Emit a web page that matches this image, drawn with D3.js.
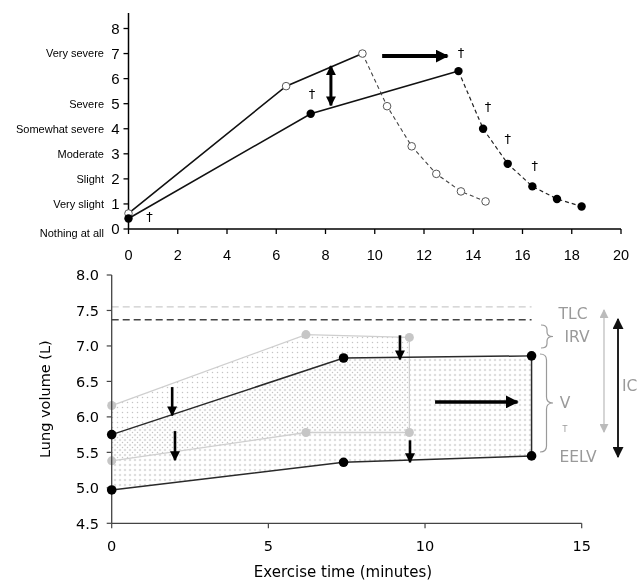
<!DOCTYPE html>
<html>
<head>
<meta charset="utf-8">
<script src="https://cdn.jsdelivr.net/npm/d3@7"></script>
<style>
  body { margin: 0; background: #fff; }
  svg { display: block; font-family: "Liberation Sans", Arial, sans-serif; filter: grayscale(100%); }
  .wide { font-family: "DejaVu Sans", sans-serif; }
</style>
</head>
<body>
<div id="chart"></div>
<script>
// ---- top panel: Borg dyspnoea during exercise and recovery ----
var rpeTicks = [0, 1, 2, 3, 4, 5, 6, 7, 8];
var rpeLabels = ["Nothing at all", "Very slight", "Slight", "Moderate", "Somewhat severe", "Severe", "", "Very severe", ""];
var timeTicksTop = [0, 2, 4, 6, 8, 10, 12, 14, 16, 18, 20];

var preExTime = [0, 6.4, 9.5];
var preExRPE = [0.62, 5.7, 7.0];
var preRecTime = [9.5, 10.5, 11.5, 12.5, 13.5, 14.5];
var preRecRPE = [7.0, 4.9, 3.3, 2.2, 1.5, 1.1];

var postExTime = [0, 7.4, 13.4];
var postExRPE = [0.42, 4.6, 6.3];
var postRecTime = [13.4, 14.4, 15.4, 16.4, 17.4, 18.4];
var postRecRPE = [6.3, 4.0, 2.6, 1.7, 1.2, 0.9];

var daggerTime = [0.85, 7.45, 13.5, 14.6, 15.4, 16.5];
var daggerRPE = [0.5, 5.4, 7.05, 4.9, 3.6, 2.55];

// ---- bottom panel: operating lung volumes ----
var volTicks = [4.5, 5.0, 5.5, 6.0, 6.5, 7.0, 7.5, 8.0];
var timeTicksBottom = [0, 5, 10, 15];

var preTime = [0, 6.2, 9.5];
var preEILV = [6.16, 7.16, 7.12];
var preEELV = [5.38, 5.78, 5.78];

var postTime = [0, 7.4, 13.4];
var postEILV = [5.75, 6.83, 6.86];
var postEELV = [4.97, 5.36, 5.45];

var tlcPre = 7.55;
var tlcPost = 7.37;

var W = 638, H = 583;
var svg = d3.select("#chart").append("svg").attr("width", W).attr("height", H);

// arrow heads
var defs = svg.append("defs");
function headMarker(id, color, size) {
    defs.append("marker")
        .attr("id", id)
        .attr("viewBox", "0 0 10 10")
        .attr("refX", 9).attr("refY", 5)
        .attr("markerWidth", size).attr("markerHeight", size)
        .attr("markerUnits", "userSpaceOnUse")
        .attr("orient", "auto-start-reverse")
        .append("path")
        .attr("d", "M0,0 L10,5 L0,10 Z")
        .attr("fill", color);
}
headMarker("hBig", "#000", 13);
headMarker("hSmall", "#000", 10);
headMarker("hDark", "#111", 11);
headMarker("hGray", "#bbb", 9);

// dotted stipple fills
function dots(id, color, step, off) {
    var p = defs.append("pattern").attr("id", id)
        .attr("patternUnits", "userSpaceOnUse")
        .attr("width", step).attr("height", step)
        .attr("x", off).attr("y", off);
    p.append("circle").attr("cx", step / 2).attr("cy", step / 2).attr("r", 0.75).attr("fill", color);
}
dots("dotLight", "#c4c4c4", 5, 0);
dots("dotDark", "#9a9a9a", 5, 2.5);

// ================= TOP PANEL =================
var xT = d3.scaleLinear().domain([0, 20]).range([128.5, 621]);
var yT = d3.scaleLinear().domain([0, 8]).range([229, 28.5]);

var topG = svg.append("g");

// axes
topG.append("line").attr("x1", xT(0)).attr("x2", xT(0)).attr("y1", yT(0)).attr("y2", 13)
    .attr("stroke", "#000").attr("stroke-width", 1.5);
topG.append("line").attr("x1", xT(0)).attr("x2", xT(20)).attr("y1", yT(0)).attr("y2", yT(0))
    .attr("stroke", "#000").attr("stroke-width", 1.5);

topG.selectAll(".yt").data(rpeTicks).enter().append("line")
    .attr("x1", xT(0) - 5).attr("x2", xT(0))
    .attr("y1", function(d) { return yT(d); }).attr("y2", function(d) { return yT(d); })
    .attr("stroke", "#000").attr("stroke-width", 1.3);
topG.selectAll(".yn").data(rpeTicks).enter().append("text")
    .attr("x", xT(0) - 9).attr("y", function(d) { return yT(d); })
    .attr("dy", "0.36em").attr("text-anchor", "end")
    .attr("font-size", 15).text(function(d) { return d; });
topG.selectAll(".yl").data(rpeTicks).enter().append("text")
    .attr("x", 104).attr("y", function(d) { return yT(d) + (d === 0 ? 4 : 0); })
    .attr("dy", "0.35em").attr("text-anchor", "end")
    .attr("font-size", 11).text(function(d, i) { return rpeLabels[i]; });

topG.selectAll(".xt").data(timeTicksTop).enter().append("line")
    .attr("x1", function(d) { return xT(d); }).attr("x2", function(d) { return xT(d); })
    .attr("y1", yT(0)).attr("y2", yT(0) + 5)
    .attr("stroke", "#000").attr("stroke-width", 1.3);
topG.selectAll(".xn").data(timeTicksTop).enter().append("text")
    .attr("x", function(d) { return xT(d); }).attr("y", 255)
    .attr("dy", "0.35em").attr("text-anchor", "middle")
    .attr("font-size", 14.5).text(function(d) { return d; });

function pts(xs, ys) { return xs.map(function(x, i) { return [x, ys[i]]; }); }
var lineT = d3.line().x(function(d) { return xT(d[0]); }).y(function(d) { return yT(d[1]); });

topG.append("path").datum(pts(preExTime, preExRPE)).attr("d", lineT)
    .attr("fill", "none").attr("stroke", "#111").attr("stroke-width", 1.6);
topG.append("path").datum(pts(postExTime, postExRPE)).attr("d", lineT)
    .attr("fill", "none").attr("stroke", "#111").attr("stroke-width", 1.6);
topG.append("path").datum(pts(preRecTime, preRecRPE)).attr("d", lineT)
    .attr("fill", "none").attr("stroke", "#444").attr("stroke-width", 1.1).attr("stroke-dasharray", "4,3");
topG.append("path").datum(pts(postRecTime, postRecRPE)).attr("d", lineT)
    .attr("fill", "none").attr("stroke", "#222").attr("stroke-width", 1.2).attr("stroke-dasharray", "4,3");

var preAll = pts(preExTime, preExRPE).concat(pts(preRecTime.slice(1), preRecRPE.slice(1)));
var postAll = pts(postExTime, postExRPE).concat(pts(postRecTime.slice(1), postRecRPE.slice(1)));

topG.selectAll(".po").data(preAll).enter().append("circle")
    .attr("cx", function(d) { return xT(d[0]); }).attr("cy", function(d) { return yT(d[1]); })
    .attr("r", 3.8).attr("fill", "#fff").attr("stroke", "#555").attr("stroke-width", 1);
topG.selectAll(".pf").data(postAll).enter().append("circle")
    .attr("cx", function(d) { return xT(d[0]); }).attr("cy", function(d) { return yT(d[1]); })
    .attr("r", 4.2).attr("fill", "#000");

// daggers: significance marks
topG.selectAll(".dg").data(pts(daggerTime, daggerRPE)).enter().append("text")
    .attr("class", "wide")
    .attr("x", function(d) { return xT(d[0]); }).attr("y", function(d) { return yT(d[1]); })
    .attr("dy", "0.35em").attr("text-anchor", "middle")
    .attr("fill", "#000").attr("font-size", 13).text("\u2020");

// arrows
topG.append("line").attr("x1", xT(10.3)).attr("x2", xT(12.95)).attr("y1", yT(6.9)).attr("y2", yT(6.9))
    .attr("stroke", "#000").attr("stroke-width", 4).attr("marker-end", "url(#hBig)");
topG.append("line").attr("x1", xT(8.22)).attr("x2", xT(8.22)).attr("y1", yT(6.5)).attr("y2", yT(4.93))
    .attr("stroke", "#000").attr("stroke-width", 3)
    .attr("marker-end", "url(#hSmall)").attr("marker-start", "url(#hSmall)");

// ================= BOTTOM PANEL =================
var xB = d3.scaleLinear().domain([0, 15]).range([111.7, 581.7]);
var yB = d3.scaleLinear().domain([4.5, 8.0]).range([523.3, 275]);
var bot = svg.append("g");

var lineB = d3.line().x(function(d) { return xB(d[0]); }).y(function(d) { return yB(d[1]); });
var areaB = d3.area().x(function(d) { return xB(d[0]); })
    .y0(function(d) { return yB(d[2]); }).y1(function(d) { return yB(d[1]); });

var preBand = preTime.map(function(t, i) { return [t, preEILV[i], preEELV[i]]; });
var postBand = postTime.map(function(t, i) { return [t, postEILV[i], postEELV[i]]; });

bot.append("path").datum(preBand).attr("d", areaB).attr("fill", "url(#dotLight)");
bot.append("path").datum(postBand).attr("d", areaB).attr("fill", "url(#dotDark)");

// TLC dashed
bot.append("line").attr("x1", xB(0)).attr("x2", xB(13.4)).attr("y1", yB(tlcPre)).attr("y2", yB(tlcPre))
    .attr("stroke", "#ccc").attr("stroke-width", 1.2).attr("stroke-dasharray", "7,4");
bot.append("line").attr("x1", xB(0)).attr("x2", xB(13.4)).attr("y1", yB(tlcPost)).attr("y2", yB(tlcPost))
    .attr("stroke", "#444").attr("stroke-width", 1.5).attr("stroke-dasharray", "7,4");

// pre (gray) lines
bot.append("path").datum(pts(preTime, preEILV)).attr("d", lineB)
    .attr("fill", "none").attr("stroke", "#cfcfcf").attr("stroke-width", 1.3);
bot.append("path").datum(pts(preTime, preEELV)).attr("d", lineB)
    .attr("fill", "none").attr("stroke", "#cfcfcf").attr("stroke-width", 1.3);
bot.append("line").attr("x1", xB(9.5)).attr("x2", xB(9.5))
    .attr("y1", yB(preEILV[2])).attr("y2", yB(preEELV[2]))
    .attr("stroke", "#cfcfcf").attr("stroke-width", 1.2);

// post (black) lines
bot.append("path").datum(pts(postTime, postEILV)).attr("d", lineB)
    .attr("fill", "none").attr("stroke", "#2a2a2a").attr("stroke-width", 1.5);
bot.append("path").datum(pts(postTime, postEELV)).attr("d", lineB)
    .attr("fill", "none").attr("stroke", "#2a2a2a").attr("stroke-width", 1.5);
bot.append("line").attr("x1", xB(13.4)).attr("x2", xB(13.4))
    .attr("y1", yB(postEILV[2])).attr("y2", yB(postEELV[2]))
    .attr("stroke", "#2a2a2a").attr("stroke-width", 1.5);

bot.selectAll(".gp").data(pts(preTime, preEILV).concat(pts(preTime, preEELV))).enter().append("circle")
    .attr("cx", function(d) { return xB(d[0]); }).attr("cy", function(d) { return yB(d[1]); })
    .attr("r", 4.5).attr("fill", "#c6c6c6");

// axes
bot.append("line").attr("x1", xB(0)).attr("x2", xB(0)).attr("y1", yB(4.5)).attr("y2", yB(8))
    .attr("stroke", "#444").attr("stroke-width", 1.3);
bot.append("line").attr("x1", xB(0)).attr("x2", xB(15)).attr("y1", yB(4.5)).attr("y2", yB(4.5))
    .attr("stroke", "#444").attr("stroke-width", 1.3);
bot.selectAll(".byt").data(volTicks).enter().append("line")
    .attr("x1", xB(0) - 5).attr("x2", xB(0))
    .attr("y1", function(d) { return yB(d); }).attr("y2", function(d) { return yB(d); })
    .attr("stroke", "#444").attr("stroke-width", 1.2);
bot.selectAll(".byn").data(volTicks).enter().append("text")
    .attr("class", "wide")
    .attr("x", 99).attr("y", function(d) { return yB(d); })
    .attr("dy", "0.36em").attr("text-anchor", "end")
    .attr("font-size", 14.5).text(function(d) { return d.toFixed(1); });
bot.selectAll(".bxt").data(timeTicksBottom).enter().append("line")
    .attr("x1", function(d) { return xB(d); }).attr("x2", function(d) { return xB(d); })
    .attr("y1", yB(4.5)).attr("y2", yB(4.5) + 5)
    .attr("stroke", "#444").attr("stroke-width", 1.2);
bot.selectAll(".bxn").data(timeTicksBottom).enter().append("text")
    .attr("class", "wide")
    .attr("x", function(d) { return xB(d); }).attr("y", 546)
    .attr("dy", "0.35em").attr("text-anchor", "middle")
    .attr("font-size", 14.5).text(function(d) { return d; });

bot.append("text").attr("class", "wide")
    .attr("x", 343).attr("y", 572)
    .attr("dy", "0.35em").attr("text-anchor", "middle")
    .attr("font-size", 15).text("Exercise time (minutes)");
bot.append("text").attr("class", "wide")
    .attr("transform", "translate(45," + yB(6.25) + ") rotate(-90)")
    .attr("dy", "0.35em").attr("text-anchor", "middle")
    .attr("font-size", 14.5).text("Lung volume (L)");

bot.selectAll(".bp").data(pts(postTime, postEILV).concat(pts(postTime, postEELV))).enter().append("circle")
    .attr("cx", function(d) { return xB(d[0]); }).attr("cy", function(d) { return yB(d[1]); })
    .attr("r", 4.8).attr("fill", "#000");

// arrows in the plot
function arrow(x1, y1, x2, y2, w, head) {
    bot.append("line").attr("x1", xB(x1)).attr("x2", xB(x2)).attr("y1", yB(y1)).attr("y2", yB(y2))
        .attr("stroke", "#000").attr("stroke-width", w).attr("marker-end", "url(#" + head + ")");
}
arrow(1.93, 6.42, 1.93, 6.02, 2.6, "hSmall");
arrow(2.02, 5.8, 2.02, 5.39, 2.6, "hSmall");
arrow(9.2, 7.15, 9.2, 6.81, 2.6, "hSmall");
arrow(9.52, 5.67, 9.52, 5.36, 2.6, "hSmall");
arrow(10.32, 6.21, 12.95, 6.21, 3.5, "hBig");

// braces and labels on the right
function brace(x0, y0, y1, w) {
    var h = y1 - y0, ym = (y0 + y1) / 2, xm = x0 + w / 2;
    var c = Math.min(6, h * 0.2);
    return "M" + x0 + "," + y0 + " Q" + xm + "," + y0 + " " + xm + "," + (y0 + c) +
        " L" + xm + "," + (ym - c) + " Q" + xm + "," + ym + " " + (x0 + w) + "," + ym +
        " Q" + xm + "," + ym + " " + xm + "," + (ym + c) +
        " L" + xm + "," + (y1 - c) + " Q" + xm + "," + y1 + " " + x0 + "," + y1;
}
var gray = "#9a9a9a";
bot.append("path").attr("d", brace(541, 325, 348, 12)).attr("fill", "none").attr("stroke", gray).attr("stroke-width", 1.2);
bot.append("path").attr("d", brace(540, 354, 452, 13)).attr("fill", "none").attr("stroke", gray).attr("stroke-width", 1.2);

function rlabel(x, y, size, txt, anchor) {
    bot.append("text").attr("class", "wide")
        .attr("x", x).attr("y", y).attr("dy", "0.35em").attr("text-anchor", anchor || "middle")
        .attr("font-size", size).attr("fill", gray).text(txt);
}
rlabel(573, 314, 15.5, "TLC");
rlabel(577, 337, 15.5, "IRV");
rlabel(565, 403, 15.5, "V");
rlabel(565, 429, 8, "T");
rlabel(578, 457, 15.5, "EELV");
rlabel(622, 386, 15.5, "IC", "start");

bot.append("line").attr("x1", 604).attr("x2", 604).attr("y1", 310).attr("y2", 432)
    .attr("stroke", "#c4c4c4").attr("stroke-width", 1.4)
    .attr("marker-start", "url(#hGray)").attr("marker-end", "url(#hGray)");
bot.append("line").attr("x1", 618).attr("x2", 618).attr("y1", 319).attr("y2", 457)
    .attr("stroke", "#222").attr("stroke-width", 2)
    .attr("marker-start", "url(#hDark)").attr("marker-end", "url(#hDark)");
</script>
</body>
</html>
